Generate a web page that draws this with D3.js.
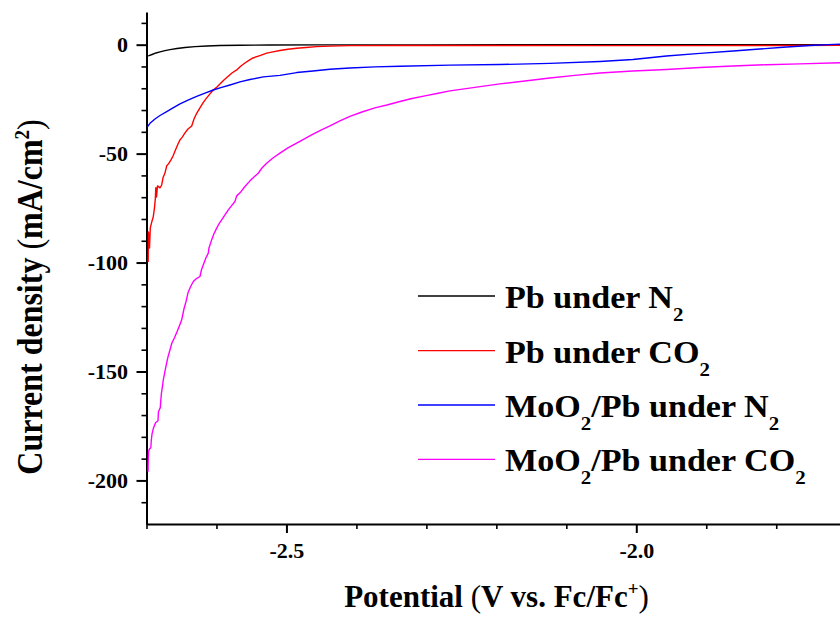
<!DOCTYPE html>
<html>
<head>
<meta charset="utf-8">
<script src="https://cdn.jsdelivr.net/npm/d3@7/dist/d3.min.js"></script>
<style>
  html, body { margin: 0; padding: 0; background: #fff; }
  svg { display: block; }
  svg text { font-family: "Liberation Serif", "Times New Roman", serif; font-weight: bold; fill: #000; }
</style>
</head>
<body>
<svg id="chart" width="840" height="618"></svg>
<script>
// Linear sweep voltammograms: [potential (V vs. Fc/Fc+), current density (mA/cm2)]
const pbN2 = [
  [-2.7000, -5.2], [-2.6964, -5.0], [-2.6921, -4.5], [-2.6864, -3.8], [-2.6807, -3.3],
  [-2.6736, -2.75], [-2.6664, -2.25], [-2.6564, -1.75], [-2.6450, -1.3], [-2.6307, -0.87],
  [-2.6136, -0.6], [-2.5950, -0.4], [-2.5664, -0.25], [-2.5236, -0.15], [-2.4500, -0.1],
  [-2.3000, -0.08], [-2.1000, -0.05], [-1.9000, -0.05], [-1.7000, 0.0]
];

const pbCO2 = [
  [-2.6976, -99.7], [-2.6975, -95.0], [-2.6974, -91.0], [-2.6972, -86.0], [-2.6966, -87.8],
  [-2.6957, -93.3], [-2.6946, -84.1], [-2.6921, -80.9], [-2.6903, -78.9], [-2.6886, -74.9],
  [-2.6874, -70.8], [-2.6867, -65.7], [-2.6857, -69.9], [-2.6843, -64.8], [-2.6807, -65.7],
  [-2.6783, -64.4], [-2.6764, -61.1], [-2.6736, -58.9], [-2.6711, -55.6], [-2.6686, -54.7],
  [-2.6650, -52.9], [-2.6621, -51.1], [-2.6586, -48.3], [-2.6550, -45.6], [-2.6521, -43.7],
  [-2.6486, -42.3], [-2.6450, -40.5], [-2.6407, -38.7], [-2.6354, -37.3], [-2.6321, -34.1],
  [-2.6283, -31.5], [-2.6236, -29.0], [-2.6193, -26.7], [-2.6140, -24.4], [-2.6093, -22.6],
  [-2.6046, -20.8], [-2.5993, -19.4], [-2.5950, -18.0], [-2.5893, -16.2], [-2.5836, -14.6],
  [-2.5779, -13.0], [-2.5711, -11.6], [-2.5650, -9.8], [-2.5593, -8.4], [-2.5536, -7.2],
  [-2.5479, -6.1], [-2.5379, -5.0], [-2.5283, -3.9], [-2.5193, -3.3], [-2.5093, -2.7],
  [-2.4979, -2.1], [-2.4854, -1.65], [-2.4721, -1.3], [-2.4569, -0.9], [-2.4379, -0.65],
  [-2.4093, -0.45], [-2.3379, -0.35], [-2.1950, -0.35], [-2.0520, -0.45], [-1.9090, -0.45],
  [-1.7950, -0.35], [-1.7000, -0.25]
];

const moPbN2 = [
  [-2.6985, -37.6], [-2.6950, -36.1], [-2.6879, -34.1], [-2.6807, -32.5], [-2.6711, -30.7],
  [-2.6621, -29.0], [-2.6521, -27.2], [-2.6407, -25.4], [-2.6283, -23.7], [-2.6164, -22.2],
  [-2.6046, -20.8], [-2.5926, -19.6], [-2.5807, -18.5], [-2.5664, -17.1], [-2.5521, -16.0],
  [-2.5331, -14.8], [-2.5093, -14.1], [-2.4854, -12.8], [-2.4621, -12.1], [-2.4379, -11.3],
  [-2.4093, -10.7], [-2.3736, -10.2], [-2.3379, -9.9], [-2.2664, -9.4], [-2.1950, -9.1],
  [-2.1236, -8.6], [-2.0520, -7.7], [-2.0050, -6.8], [-1.9569, -5.2], [-1.9090, -4.0],
  [-1.8617, -2.9], [-1.8236, -2.0], [-1.7903, -1.2], [-1.7521, -0.4], [-1.7000, 0.37]
];

const moPbCO2 = [
  [-2.6978, -196.0], [-2.6976, -191.4], [-2.6970, -186.7], [-2.6957, -185.5], [-2.6938, -185.0],
  [-2.6932, -181.8], [-2.6921, -178.6], [-2.6900, -175.9], [-2.6871, -173.5], [-2.6836, -172.6],
  [-2.6829, -168.5], [-2.6803, -166.6], [-2.6796, -163.4], [-2.6786, -159.8], [-2.6771, -156.6],
  [-2.6760, -153.8], [-2.6743, -151.1], [-2.6721, -147.4], [-2.6693, -143.3], [-2.6664, -140.0],
  [-2.6636, -136.8], [-2.6600, -134.5], [-2.6564, -131.8], [-2.6529, -129.0], [-2.6497, -126.3],
  [-2.6464, -121.2], [-2.6436, -118.0], [-2.6407, -113.9], [-2.6371, -111.1], [-2.6331, -108.7],
  [-2.6293, -107.5], [-2.6236, -106.4], [-2.6214, -103.3], [-2.6189, -101.1], [-2.6150, -97.8],
  [-2.6117, -95.7], [-2.6107, -93.3], [-2.6069, -89.6], [-2.6036, -86.8], [-2.5997, -84.2],
  [-2.5964, -82.2], [-2.5926, -80.4], [-2.5879, -78.1], [-2.5831, -75.8], [-2.5786, -74.0],
  [-2.5736, -72.0], [-2.5711, -69.4], [-2.5664, -68.0], [-2.5593, -65.1], [-2.5521, -62.5],
  [-2.5464, -60.7], [-2.5403, -59.0], [-2.5350, -56.6], [-2.5283, -54.4], [-2.5193, -52.0],
  [-2.5093, -49.8], [-2.4979, -47.4], [-2.4854, -45.2], [-2.4750, -43.3], [-2.4640, -41.4],
  [-2.4521, -39.4], [-2.4379, -37.3], [-2.4236, -35.0], [-2.4093, -32.9], [-2.3921, -30.9],
  [-2.3736, -29.0], [-2.3564, -27.7], [-2.3379, -26.1], [-2.3207, -24.7], [-2.3021, -23.5],
  [-2.2850, -22.4], [-2.2664, -21.2], [-2.2307, -19.6], [-2.1950, -18.0], [-2.1593, -16.7],
  [-2.1236, -15.3], [-2.0879, -14.1], [-2.0520, -13.0], [-2.0050, -12.1], [-1.9569, -11.4],
  [-1.9090, -10.5], [-1.8621, -9.8], [-1.8140, -9.2], [-1.7664, -8.8], [-1.7000, -8.2]
];

const seriesData = [pbN2, pbCO2, moPbN2, moPbCO2];
const seriesColors = ["#000000", "#ff0000", "#0000ff", "#ff00ff"];
// legend labels: [text piece, is subscript]
const seriesLabels = [
  [["Pb under N", false], ["2", true]],
  [["Pb under CO", false], ["2", true]],
  [["MoO", false], ["2", true], ["/Pb under N", false], ["2", true]],
  [["MoO", false], ["2", true], ["/Pb under CO", false], ["2", true]]
];

const xMajorTicks = [-2.5, -2.0];
const yMajorTicks = [0, -50, -100, -150, -200];
const xMinorTicks = [-2.7, -2.6, -2.4, -2.3, -2.2, -2.1, -1.9, -1.8];
const yMinorTicks = [10, -10, -20, -30, -40, -60, -70, -80, -90, -110, -120, -130, -140,
                     -160, -170, -180, -190, -210];

const FONT = '"Liberation Serif", "Times New Roman", Times, serif';
const svg = d3.select("#chart");
const W = 840;
const stretch = 1.1;

const x = d3.scaleLinear().domain([-2.7, -1.7]).range([146.5, 846.2]);
const y = d3.scaleLinear().domain([-220, 15]).range([524, 12]);

const plotLeft = x(-2.7), plotBottom = y(-220), plotTop = y(15);

svg.append("defs").append("clipPath").attr("id", "plotClip")
  .append("rect").attr("x", plotLeft).attr("y", plotTop)
  .attr("width", W - plotLeft).attr("height", plotBottom - plotTop);

// axes
const yMinor = svg.append("g").attr("transform", `translate(${plotLeft},0)`)
  .call(d3.axisLeft(y).tickValues(yMinorTicks).tickSize(5).tickSizeOuter(0).tickFormat(""));
yMinor.select(".domain").remove();
yMinor.selectAll(".tick line").attr("stroke-width", 1.6);

const yAxis = svg.append("g").attr("transform", `translate(${plotLeft},0)`)
  .call(d3.axisLeft(y).tickValues(yMajorTicks).tickSize(10).tickSizeOuter(0));
yAxis.attr("font-family", FONT).attr("font-size", 20).attr("font-weight", "bold");
yAxis.select(".domain").attr("stroke-width", 2);
yAxis.selectAll(".tick line").attr("stroke-width", 2);
yAxis.selectAll(".tick text")
  .attr("x", -18.5 / stretch).attr("dy", "0.34em")
  .attr("transform", `scale(${stretch},1)`)
  .text(d => String(d));

const xMinor = svg.append("g").attr("transform", `translate(0,${plotBottom})`)
  .call(d3.axisBottom(x).tickValues(xMinorTicks).tickSize(5).tickSizeOuter(0).tickFormat(""));
xMinor.select(".domain").remove();
xMinor.selectAll(".tick line").attr("stroke-width", 1.6);

const xAxis = svg.append("g").attr("transform", `translate(0,${plotBottom})`)
  .call(d3.axisBottom(x).tickValues(xMajorTicks).tickSize(9).tickSizeOuter(0));
xAxis.attr("font-family", FONT).attr("font-size", 20).attr("font-weight", "bold");
xAxis.select(".domain").attr("stroke-width", 2);
xAxis.selectAll(".tick line").attr("stroke-width", 2);
xAxis.selectAll(".tick text")
  .attr("y", 34).attr("dy", 0)
  .attr("transform", `scale(${stretch},1)`)
  .text(d => d.toFixed(1));

// curves, drawn over the axis lines
const line = d3.line().x(d => x(d[0])).y(d => y(d[1]));
const curves = svg.append("g").attr("clip-path", "url(#plotClip)");
seriesData.forEach((s, i) => {
  curves.append("path").datum(s)
    .attr("d", line)
    .attr("fill", "none")
    .attr("stroke", seriesColors[i])
    .attr("stroke-width", 1.4)
    .attr("stroke-linejoin", "round");
});

// axis titles
const xTitle = svg.append("text")
  .attr("transform", "translate(496.5,607)")
  .attr("text-anchor", "middle")
  .style("font-size", "31px");
xTitle.append("tspan").text("Potential ");
xTitle.append("tspan").style("font-weight", "normal").text("(");
xTitle.append("tspan").text("V vs. Fc/Fc");
xTitle.append("tspan").attr("dy", -12).style("font-size", "19px").text("+");
xTitle.append("tspan").attr("dy", 12).style("font-weight", "normal").text(")");

const yTitle = svg.append("text")
  .attr("transform", `translate(42,297) rotate(-90) scale(1,${stretch})`)
  .attr("text-anchor", "middle")
  .style("font-size", "32px");
yTitle.append("tspan").text("Current density ");
yTitle.append("tspan").style("font-weight", "normal").text("(");
yTitle.append("tspan").text("mA/cm");
yTitle.append("tspan").attr("dy", -12).style("font-size", "19px").text("2");
yTitle.append("tspan").attr("dy", 12).style("font-weight", "normal").text(")");

// legend
const legendRows = [296, 350.6, 405, 459.4];
const legend = svg.append("g");
seriesLabels.forEach((parts, i) => {
  const ry = legendRows[i];
  legend.append("line")
    .attr("x1", 418).attr("x2", 495).attr("y1", ry).attr("y2", ry)
    .attr("stroke", seriesColors[i]).attr("stroke-width", 1.4);
  const t = legend.append("text")
    .attr("transform", `translate(505,${ry + 12}) scale(${stretch},1)`)
    .style("font-size", "31px");
  let shifted = false;
  parts.forEach(([txt, sub]) => {
    const sp = t.append("tspan").text(txt);
    if (sub && !shifted) { sp.attr("dy", 13).style("font-size", "19px"); shifted = true; }
    else if (!sub && shifted) { sp.attr("dy", -13); shifted = false; }
    else if (sub) sp.style("font-size", "19px");
  });
});
</script>
</body>
</html>
